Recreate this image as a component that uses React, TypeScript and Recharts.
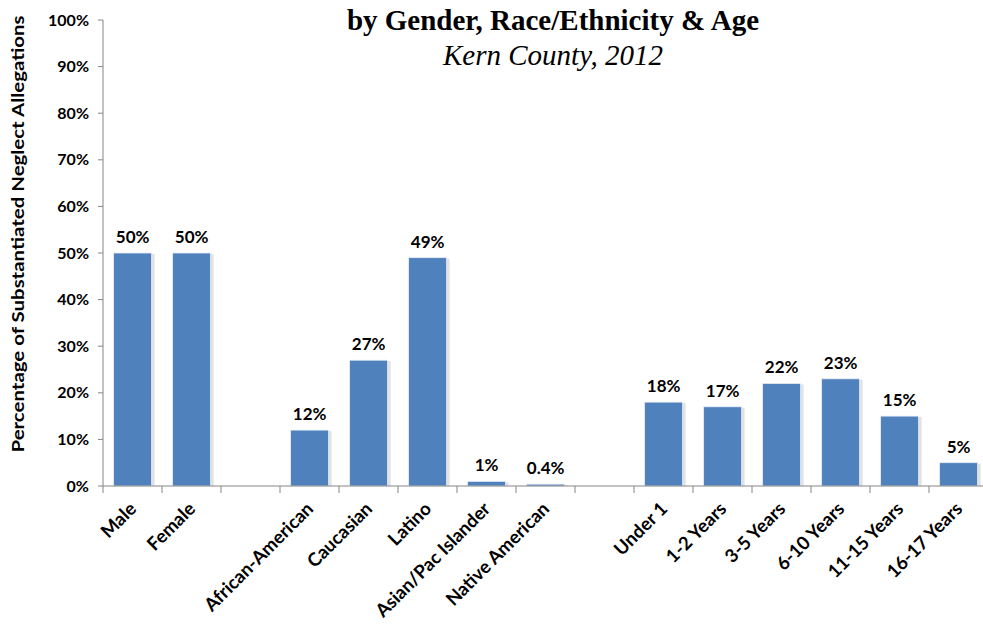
import { Bar, BarChart, LabelList, XAxis, YAxis } from "recharts";

const categories = [
  "Male",
  "Female",
  "",
  "African-American",
  "Caucasian",
  "Latino",
  "Asian/Pac Islander",
  "Native American",
  "",
  "Under 1",
  "1-2 Years",
  "3-5 Years",
  "6-10 Years",
  "11-15 Years",
  "16-17 Years",
];

const percentages: (number | null)[] = [
  50, 50, null, 12, 27, 49, 1, 0.4, null, 18, 17, 22, 23, 15, 5,
];

const yTicks = [0, 10, 20, 30, 40, 50, 60, 70, 80, 90, 100];

const data = categories.map((name, i) => ({
  key: `c${i}`,
  name,
  value: percentages[i],
}));

const FONT = "Lato, 'Open Sans', sans-serif";
const WIDTH = 990;
const HEIGHT = 624;
const LEFT = 103;
const RIGHT = 2;
const BAND = (WIDTH - LEFT - RIGHT) / categories.length;

function XTick(props: any) {
  const { x, y, payload, index } = props;
  const label = categories[index] ?? "";
  const last = index === categories.length - 1;
  return (
    <g>
      <line x1={x - BAND / 2} y1={y - 8} x2={x - BAND / 2} y2={y - 1} stroke="#868686" />
      {last && (
        <line x1={x + BAND / 2} y1={y - 8} x2={x + BAND / 2} y2={y - 1} stroke="#868686" />
      )}
      <text
        x={x + 5}
        y={y + 16}
        transform={`rotate(-45, ${x + 5}, ${y + 16})`}
        textAnchor="end"
        fontFamily={FONT}
        fontWeight={700}
        fontSize={18.5}
        fill="#000"
      >
        {label}
      </text>
      <title>{payload.value}</title>
    </g>
  );
}

function ShadowBar(props: any) {
  const { x, y, width, height } = props;
  if (!height || height <= 0) return null;
  return (
    <g>
      <rect x={x + 2} y={y + 1} width={width + 1} height={height - 1} fill="#e2e2e2" />
      <rect x={x} y={y} width={width} height={height} fill="#4F81BD" stroke="#e8eef6" strokeWidth={0.8} />
    </g>
  );
}

function YLabel() {
  return (
    <text
      x={0}
      y={0}
      transform="translate(24, 234) rotate(-90)"
      textAnchor="middle"
      fontFamily={FONT}
      fontWeight={700}
      fontSize={17}
      textLength={437}
      lengthAdjust="spacingAndGlyphs"
      fill="#000"
    >
      Percentage of Substantiated Neglect Allegations
    </text>
  );
}

export default function App() {
  return (
    <div style={{ position: "absolute", left: 0, top: 0, width: 983, height: HEIGHT, overflow: "hidden", background: "#fff" }}>
      <BarChart
        width={WIDTH}
        height={HEIGHT}
        data={data}
        margin={{ top: 20, right: RIGHT, left: 0, bottom: 0 }}
        barCategoryGap="18%"
      >
        <XAxis
          dataKey="key"
          interval={0}
          tick={<XTick />}
          tickLine={false}
          axisLine={{ stroke: "#868686" }}
          height={138}
        />
        <YAxis
          domain={[0, 100]}
          ticks={yTicks}
          width={LEFT}
          tickFormatter={(v) => `${v}%`}
          tick={{ fontFamily: FONT, fontWeight: 700, fontSize: 16, fill: "#000" }}
          tickSize={5}
          tickMargin={9}
          axisLine={{ stroke: "#868686" }}
          tickLine={{ stroke: "#868686" }}
        />
        <Bar dataKey="value" shape={<ShadowBar />} isAnimationActive={false}>
          <LabelList
            dataKey="value"
            position="top"
            offset={10}
            formatter={(v: any) => (v == null ? "" : `${v}%`)}
            style={{ fontFamily: FONT, fontWeight: 700, fontSize: 17, fill: "#000" }}
          />
        </Bar>
        <YLabel />
      </BarChart>
      <div
        style={{
          position: "absolute",
          top: 4,
          left: 0,
          width: 1106,
          textAlign: "center",
          fontFamily: "'Liberation Serif', serif",
          fontWeight: 700,
          fontSize: 29,
          lineHeight: "32px",
        }}
      >
        by Gender, Race/Ethnicity &amp; Age
      </div>
      <div
        style={{
          position: "absolute",
          top: 39,
          left: 0,
          width: 1106,
          textAlign: "center",
          fontFamily: "'Liberation Serif', serif",
          fontStyle: "italic",
          fontSize: 29,
          lineHeight: "32px",
        }}
      >
        Kern County, 2012
      </div>
    </div>
  );
}
